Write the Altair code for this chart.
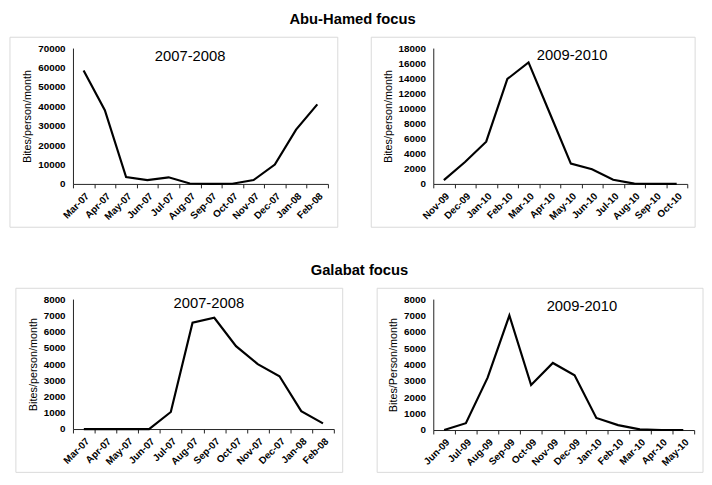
import altair as alt
import pandas as pd

FONT = "Liberation Sans"

# ---------------- data ----------------
months_ah1 = ["Mar-07", "Apr-07", "May-07", "Jun-07", "Jul-07", "Aug-07",
              "Sep-07", "Oct-07", "Nov-07", "Dec-07", "Jan-08", "Feb-08"]
bites_ah1 = [58500, 38000, 3500, 2000, 3400, 200, 0, 100, 2000, 10000, 28000, 41000]

months_ah2 = ["Nov-09", "Dec-09", "Jan-10", "Feb-10", "Mar-10", "Apr-10",
              "May-10", "Jun-10", "Jul-10", "Aug-10", "Sep-10", "Oct-10"]
bites_ah2 = [500, 2900, 5600, 13900, 16100, 9400, 2700, 1950, 560, 50, 0, 0]

months_ga1 = ["Mar-07", "Apr-07", "May-07", "Jun-07", "Jul-07", "Aug-07",
              "Sep-07", "Oct-07", "Nov-07", "Dec-07", "Jan-08", "Feb-08"]
bites_ga1 = [0, 0, 0, 0, 1050, 6550, 6850, 5100, 4000, 3250, 1100, 350]

months_ga2 = ["Jun-09", "Jul-09", "Aug-09", "Sep-09", "Oct-09", "Nov-09",
              "Dec-09", "Jan-10", "Feb-10", "Mar-10", "Apr-10", "May-10"]
bites_ga2 = [0, 420, 3200, 7000, 2750, 4100, 3350, 740, 300, 40, 0, 0]

group_titles = ["Abu-Hamed focus", "Galabat focus"]
periods = ["2007-2008", "2009-2010"]
y_titles = ["Bites/person/month", "Bites/person/month",
            "Bites/person/month", "Bites/Person/month"]


def panel(months, values, ymax, ystep, ytitle, period, w, h, frame, tpos):
    df = pd.DataFrame({"month": months, "value": values})
    line = alt.Chart(df).mark_line(color="black", strokeWidth=2.2).encode(
        x=alt.X("month:O", sort=months, bandPosition=0.5,
                scale=alt.Scale(type="band", paddingInner=0, paddingOuter=0),
                axis=alt.Axis(title=None, tickBand="extent", labelAngle=-45,
                              labelAlign="right", labelBaseline="top",
                              tickSize=4, labelPadding=3)),
        y=alt.Y("value:Q", scale=alt.Scale(domain=[0, ymax], nice=False),
                axis=alt.Axis(values=list(range(0, ymax + 1, ystep)), format="d",
                              title=ytitle, ticks=False, labelPadding=8,
                              titlePadding=5)),
    )
    fr = alt.Chart(pd.DataFrame({"f": [0]})).mark_rect(
        filled=False, color="#d9d9d9", strokeWidth=1
    ).encode(
        x=alt.value(frame[0]), x2=alt.value(frame[1]),
        y=alt.value(frame[2]), y2=alt.value(frame[3]),
    )
    txt = alt.Chart(pd.DataFrame({"t": [period]})).mark_text(
        font=FONT, fontSize=15, color="black"
    ).encode(text="t:N", x=alt.value(tpos[0]), y=alt.value(tpos[1]))
    return alt.layer(fr, line, txt).properties(width=w, height=h)


p1 = panel(months_ah1, bites_ah1, 70000, 10000, y_titles[0], periods[0],
           259, 138, (-64, 269, -11, 182), (119, 8))
p2 = panel(months_ah2, bites_ah2, 18000, 2000, y_titles[1], periods[1],
           258, 138, (-63, 266, -11, 182), (141, 7))
p3 = panel(months_ga1, bites_ga1, 8000, 1000, y_titles[2], periods[0],
           265, 132, (-58, 274, -11, 176), (138, 4))
p4 = panel(months_ga2, bites_ga2, 8000, 1000, y_titles[3], periods[1],
           265, 133, (-57, 274, -11, 176), (151, 7))

tp = dict(font=FONT, fontSize=15, fontWeight="bold", anchor="middle", offset=10)

row1 = alt.hconcat(p1, p2, spacing=32).properties(
    title=alt.TitleParams(group_titles[0], **tp))
row2 = alt.hconcat(p3, p4, spacing=33).properties(
    title=alt.TitleParams(group_titles[1], **tp))

chart = alt.vconcat(row1, row2, spacing=35).properties(
    padding={"left": 1, "top": 0, "right": 0, "bottom": 0}
).configure_view(stroke=None).configure_axis(
    grid=False,
    domainColor="#222222",
    tickColor="#222222",
    labelFont=FONT,
    labelFontSize=10,
    labelFontWeight="bold",
    labelColor="black",
    titleFont=FONT,
    titleFontSize=11,
    titleFontWeight="normal",
    titleColor="black",
).configure_title(color="black")

chart.save("out.html", embed_options={"renderer": "svg", "actions": False})
